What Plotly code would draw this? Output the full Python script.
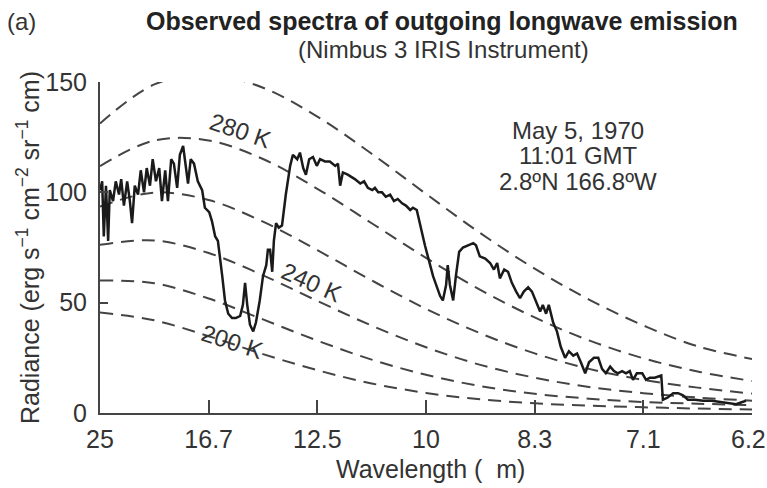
import plotly.graph_objects as go

# ---------------- data ----------------
# x axis: wavenumber (cm^-1), labelled with wavelength (um)
tick_wavenumbers = [400, 600, 800, 1000, 1200, 1400, 1600]
tick_labels = ["25", "16.7", "12.5", "10", "8.3", "7.1", "6.2"]

# Blackbody reference curves (radiance read at 100 cm^-1 steps)
bb_wavenumber = [400, 500, 600, 700, 800, 900, 1000, 1100, 1200, 1300, 1400, 1500, 1600]
bb_300K = [131.2, 148.9, 153.4, 147.4, 134.3, 117.5, 99.3, 81.5, 65.4, 51.4, 39.7, 30.2, 24.5]
bb_280K = [111.9, 123.5, 123.5, 115.1, 101.6, 86.0, 70.3, 55.8, 43.3, 32.9, 24.8, 18.8, 14.5]
bb_260K = [93.5, 99.9, 96.5, 86.7, 73.8, 60.1, 47.2, 36.1, 27.0, 20.0, 15.0, 11.5, 8.8]
bb_240K = [76.2, 78.2, 72.5, 62.4, 50.8, 39.6, 29.8, 21.8, 16.0, 11.8, 9.0, 7.0, 5.6]
bb_220K = [60.1, 58.8, 51.9, 42.4, 32.8, 24.2, 17.3, 12.2, 8.7, 6.5, 5.0, 4.2, 3.6]
bb_200K = [45.5, 42.0, 34.8, 26.7, 19.4, 13.4, 9.1, 6.2, 4.4, 3.3, 2.6, 2.0, 1.6]

# Observed spectrum (Nimbus 3 IRIS)
obs_wavenumber = [
    400, 404, 407, 411, 415, 418, 424, 429, 435, 439, 444, 450, 455, 459, 464, 470,
    475, 481, 486, 492, 497, 503, 509, 514, 520, 525, 531, 536, 542, 547, 553, 558,
    562, 567, 573, 580, 588, 593, 601, 606, 612, 617, 621, 625, 630, 636, 643, 650,
    658, 663, 667, 671, 676, 682, 687, 694, 700, 706, 709, 713, 717, 720, 724, 729,
    735, 742, 750, 755, 763, 768, 774, 779, 785, 792, 799, 805, 814, 823, 833, 838,
    842, 847, 856, 869, 879, 886, 893, 901, 906, 912, 919, 926, 934, 941, 948, 956,
    963, 971, 976, 983, 998, 1013, 1026, 1031, 1037, 1040, 1044, 1050, 1055, 1061,
    1068, 1077, 1087, 1092, 1099, 1109, 1118, 1125, 1131, 1136, 1144, 1151, 1158,
    1166, 1173, 1180, 1188, 1195, 1202, 1210, 1215, 1221, 1226, 1234, 1241, 1248,
    1256, 1263, 1271, 1278, 1285, 1293, 1300, 1309, 1317, 1324, 1331, 1339, 1346,
    1353, 1361, 1368, 1375, 1381, 1388, 1398, 1405, 1412, 1421, 1433, 1436, 1445,
    1455, 1464, 1473, 1482, 1495, 1510, 1526, 1541, 1556, 1571, 1582, 1589,
]
obs_radiance = [
    101, 105, 80, 103, 78, 101, 96, 105, 99, 106, 94, 105, 96, 86, 103, 99,
    110, 100, 111, 103, 115, 105, 111, 96, 110, 96, 115, 113, 102, 117, 121, 110,
    104, 115, 113, 105, 101, 93, 91, 87, 80, 78, 71, 62, 51, 45, 43, 43,
    44, 49, 59, 49, 40, 37, 41, 51, 62, 67, 74, 74, 64, 78, 86, 84,
    85, 99, 112, 117, 115, 118, 111, 108, 115, 116, 112, 115, 114, 114, 112, 113,
    103, 109, 108, 106, 104, 105, 102, 101, 102, 100, 100, 98, 99, 96, 97, 95,
    94, 92, 93, 92, 76, 62, 53, 51, 58, 67, 58, 51, 62, 73,
    75, 76, 77, 76, 71, 70, 68, 65, 68, 61, 65, 64, 59,
    55, 52, 55, 57, 55, 51, 46, 49, 45, 49, 41, 37, 30,
    25, 28, 26, 27, 23, 18, 23, 25, 25, 20, 18, 21, 19,
    18, 19, 18, 19, 15, 18, 18, 15, 16, 16, 17, 6, 7,
    9, 9, 8, 6, 6, 5.5, 5.5, 5, 4.5, 4, 5, 5.5,
]

date_lines = ["May 5, 1970", "11:01 GMT", "2.8ºN 166.8ºW"]

# ---------------- figure ----------------
FONT = "Liberation Sans, Arial, sans-serif"
DASH_COLOR = "#444444"
TEXT_COLOR = "#333333"

fig = go.Figure()

for vals in [bb_300K, bb_280K, bb_260K, bb_240K, bb_220K, bb_200K]:
    fig.add_trace(go.Scatter(
        x=bb_wavenumber, y=vals, mode="lines",
        line=dict(color=DASH_COLOR, width=2, dash="13px,8px", shape="spline", smoothing=1.0),
        hoverinfo="skip", showlegend=False,
    ))

fig.add_trace(go.Scatter(
    x=obs_wavenumber, y=obs_radiance, mode="lines",
    line=dict(color="#1a1a1a", width=2.5),
    showlegend=False,
))

L, R, T, B = 100, 15, 82, 75
W, H = 767, 488
pw, ph = W - L - R, H - T - B


def px(x):
    return (x - L) / pw


def py(y):
    return (H - B - y) / ph


annotations = [
    dict(text="(a)", x=px(21), y=py(21), font=dict(size=24, color=TEXT_COLOR)),
    dict(text="<b>Observed spectra of outgoing longwave emission</b>", x=px(442), y=py(21),
         font=dict(size=25, color="#222222")),
    dict(text="(Nimbus 3 IRIS Instrument)", x=px(443), y=py(49), font=dict(size=24, color=TEXT_COLOR)),
    dict(text="Radiance (erg s<sup>−1</sup> cm<sup>−2</sup> sr<sup>−1</sup> cm)", x=px(28), y=py(248),
         textangle=-90, font=dict(size=25, color=TEXT_COLOR)),
    dict(text="Wavelength (  m)", x=px(430), y=py(469), font=dict(size=25, color=TEXT_COLOR)),
]
for i, line in enumerate(date_lines):
    annotations.append(dict(text=line, x=px(578), y=py(130 + 25.5 * i), font=dict(size=24, color=TEXT_COLOR)))

for a in annotations:
    a.update(xref="paper", yref="paper", showarrow=False, xanchor="center", yanchor="middle")

# last tick label placed under its tick, nudged to stay inside the page
annotations.append(dict(text=tick_labels[-1], x=tick_wavenumbers[-1], xref="x", y=py(439), yref="paper",
                        showarrow=False, xanchor="center", yanchor="middle", xshift=-4,
                        font=dict(size=25, color=TEXT_COLOR)))

curve_labels = [("280 K", 658, 128, 19), ("240 K", 790, 59, 24), ("200 K", 643, 32.5, 18)]
for txt, xv, yv, ang in curve_labels:
    annotations.append(dict(text=txt, x=xv, y=yv, xref="x", yref="y", showarrow=False,
                            textangle=ang, font=dict(size=24, color=TEXT_COLOR)))

fig.update_layout(
    width=W, height=H,
    margin=dict(l=L, r=R, t=T, b=B),
    paper_bgcolor="white", plot_bgcolor="white",
    font=dict(family=FONT, color=TEXT_COLOR),
    annotations=annotations,
    showlegend=False,
)
fig.update_xaxes(
    range=[400, 1600], tickvals=tick_wavenumbers, ticktext=tick_labels[:-1] + [""],
    showgrid=False, zeroline=False, showline=True, linecolor="#444444", linewidth=2,
    ticks="inside", ticklen=13, tickwidth=2, tickcolor="#444444",
    tickfont=dict(size=25, color=TEXT_COLOR), ticklabelstandoff=3,
)
fig.update_yaxes(
    range=[0, 150], tickvals=[0, 50, 100, 150],
    showgrid=False, zeroline=False, showline=True, linecolor="#444444", linewidth=2,
    ticks="inside", ticklen=8, tickwidth=2, tickcolor="#444444",
    tickfont=dict(size=25, color=TEXT_COLOR), ticklabelstandoff=6,
)

fig.write_html("out.html")
